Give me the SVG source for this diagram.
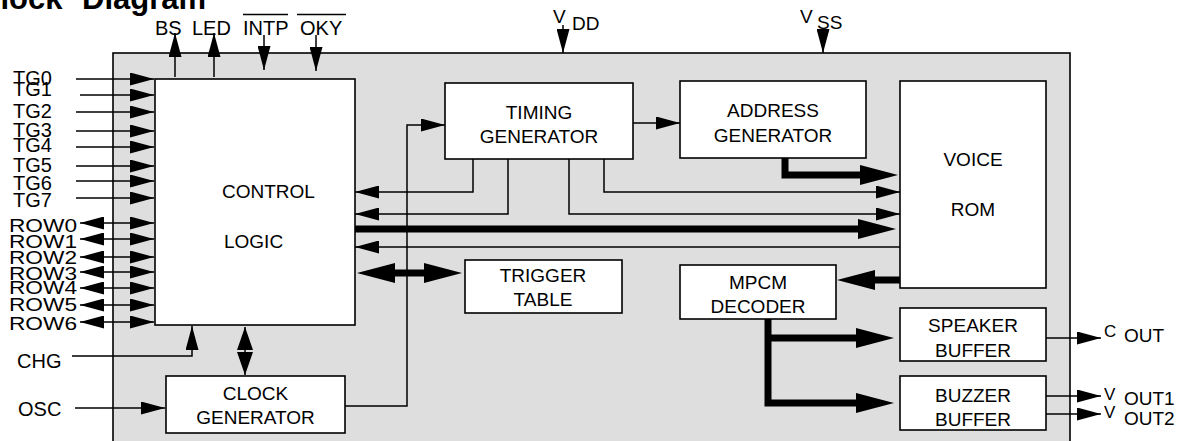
<svg xmlns="http://www.w3.org/2000/svg" width="1191" height="441" viewBox="0 0 1191 441">
<style>
.t{font-family:"Liberation Sans",Arial,sans-serif;font-size:19px;fill:#000}
.l{font-size:20px}
.c{text-anchor:middle}
.title{font-family:"Liberation Sans",Arial,sans-serif;font-size:31px;font-weight:bold;fill:#000}
.box{fill:#fff;stroke:#000;stroke-width:1.6}
.w{fill:none;stroke:#000;stroke-width:1.5}
.k{fill:none;stroke:#000;stroke-width:7;stroke-linejoin:miter}
.ov{stroke:#000;stroke-width:1.5}
</style>
<defs>
<marker id="ah" viewBox="0 0 24 13" refX="24" refY="6.5" markerWidth="24" markerHeight="13" markerUnits="userSpaceOnUse" orient="auto-start-reverse"><path d="M0,0L24,6.5L0,13z" fill="#000"/></marker>
<marker id="ahd" viewBox="0 0 23 16" refX="23" refY="8" markerWidth="23" markerHeight="16" markerUnits="userSpaceOnUse" orient="auto-start-reverse"><path d="M0,0L23,8L0,16z" fill="#000"/></marker>
<marker id="ahb" viewBox="0 0 38 20" refX="4" refY="10" markerWidth="38" markerHeight="20" markerUnits="userSpaceOnUse" orient="auto-start-reverse"><path d="M0,0L38,10L0,20z" fill="#000"/></marker>
</defs>
<rect width="1191" height="441" fill="#fff"/>
<text class="title" x="-22" y="9">Block <tspan x="82">Diagram</tspan></text>
<rect id="chip" x="113" y="53" width="957" height="400" fill="#dedede" stroke="#000" stroke-width="1.6"/>

<g id="control-logic"><rect class="box" x="155" y="79" width="200" height="246"/><text class="t" x="222" y="198">CONTROL</text><text class="t" x="224" y="248">LOGIC</text></g>
<g id="timing-generator"><rect class="box" x="445" y="83" width="188" height="76"/><text class="t c" x="539" y="119">TIMING</text><text class="t c" x="539" y="143">GENERATOR</text></g>
<g id="address-generator"><rect class="box" x="680" y="81" width="186" height="77"/><text class="t c" x="773" y="117">ADDRESS</text><text class="t c" x="773" y="142">GENERATOR</text></g>
<g id="voice-rom"><rect class="box" x="900" y="81" width="146" height="207"/><text class="t c" x="973" y="166">VOICE</text><text class="t c" x="973" y="216">ROM</text></g>
<g id="trigger-table"><rect class="box" x="465" y="260" width="157" height="53"/><text class="t c" x="543" y="282">TRIGGER</text><text class="t c" x="543" y="306">TABLE</text></g>
<g id="mpcm-decoder"><rect class="box" x="680" y="265" width="156" height="54"/><text class="t c" x="758" y="289">MPCM</text><text class="t c" x="758" y="313">DECODER</text></g>
<g id="speaker-buffer"><rect class="box" x="900" y="308" width="146" height="53"/><text class="t c" x="973" y="332">SPEAKER</text><text class="t c" x="973" y="357">BUFFER</text></g>
<g id="buzzer-buffer"><rect class="box" x="900" y="376" width="146" height="54"/><text class="t c" x="973" y="402">BUZZER</text><text class="t c" x="973" y="426">BUFFER</text></g>
<g id="clock-generator"><rect class="box" x="166" y="376" width="179" height="57"/><text class="t c" x="255.5" y="400">CLOCK</text><text class="t c" x="255.5" y="424">GENERATOR</text></g>

<g id="pins">
<text class="t l" x="155" y="35">BS</text>
<text class="t l" x="192" y="35">LED</text>
<text class="t l" x="243" y="35">INTP</text><line class="ov" x1="243" y1="14.5" x2="288" y2="14.5"/>
<text class="t l" x="300" y="35">OKY</text><line class="ov" x1="297" y1="14.5" x2="346" y2="14.5"/>
<text class="t" x="553" y="23">V</text><text class="t" x="572" y="30">DD</text>
<text class="t" x="800" y="23">V</text><text class="t" x="817" y="29">SS</text>
<text class="t l" x="13" y="85">TG0</text>
<text class="t l" x="13" y="96">TG1</text>
<text class="t l" x="13" y="118">TG2</text>
<text class="t l" x="13" y="137">TG3</text>
<text class="t l" x="13" y="152">TG4</text>
<text class="t l" x="13" y="172">TG5</text>
<text class="t l" x="13" y="190">TG6</text>
<text class="t l" x="13" y="207">TG7</text>
<text class="t" x="9" y="231.5" textLength="68" lengthAdjust="spacingAndGlyphs">ROW0</text>
<text class="t" x="9" y="248" textLength="68" lengthAdjust="spacingAndGlyphs">ROW1</text>
<text class="t" x="9" y="264" textLength="68" lengthAdjust="spacingAndGlyphs">ROW2</text>
<text class="t" x="9" y="280" textLength="68" lengthAdjust="spacingAndGlyphs">ROW3</text>
<text class="t" x="9" y="294" textLength="68" lengthAdjust="spacingAndGlyphs">ROW4</text>
<text class="t" x="9" y="311" textLength="68" lengthAdjust="spacingAndGlyphs">ROW5</text>
<text class="t" x="9" y="330" textLength="68" lengthAdjust="spacingAndGlyphs">ROW6</text>
<text class="t l" x="17" y="368">CHG</text>
<text class="t l" x="18" y="416">OSC</text>
<text class="t" x="1104" y="337" style="font-size:17px">C</text><text class="t" x="1124" y="342">OUT</text>
<text class="t" x="1104" y="400" style="font-size:17px">V</text><text class="t" x="1124" y="405">OUT1</text>
<text class="t" x="1104" y="418" style="font-size:17px">V</text><text class="t" x="1124" y="425">OUT2</text>
</g>

<g id="connectors">
<g class="w" marker-end="url(#ah)">
<path d="M76,79H154"/><path d="M80,95H154"/><path d="M76,112H154"/><path d="M76,131H154"/><path d="M76,147H154"/><path d="M76,166H154"/><path d="M76,181H154"/><path d="M76,198H154"/>
</g>
<g class="w" marker-start="url(#ah)" marker-end="url(#ah)">
<path d="M80,223H154"/><path d="M80,239H154"/><path d="M80,257H154"/><path d="M80,272H154"/><path d="M80,288H154"/><path d="M80,305H154"/><path d="M80,322H154"/>
</g>
<path class="w" marker-end="url(#ah)" d="M175,77V33"/>
<path class="w" marker-end="url(#ah)" d="M214,77V33"/>
<path class="w" marker-end="url(#ah)" d="M264,35V70"/>
<path class="w" marker-end="url(#ah)" d="M316,35V71"/>
<path class="w" marker-end="url(#ah)" d="M563,25V53"/>
<path class="w" marker-end="url(#ah)" d="M823,29V53"/>
<path class="w" marker-end="url(#ah)" d="M72,356H192V326"/>
<path class="w" marker-start="url(#ahd)" marker-end="url(#ahd)" d="M245,327V375"/>
<path class="w" marker-end="url(#ah)" d="M75,408H165"/>
<path class="w" marker-end="url(#ah)" d="M345,406H407V125H445"/>
<path class="w" marker-end="url(#ah)" d="M633,123H680"/>
<path class="w" marker-end="url(#ah)" d="M473,159V192H355"/>
<path class="w" marker-end="url(#ah)" d="M508,159V214H355"/>
<path class="w" marker-end="url(#ah)" d="M604,159V192H900"/>
<path class="w" marker-end="url(#ah)" d="M569,159V214H900"/>
<path class="w" marker-end="url(#ah)" d="M900,247H355"/>
<path class="w" marker-end="url(#ah)" d="M1046,338H1101"/>
<path class="w" marker-end="url(#ah)" d="M1046,396H1101"/>
<path class="w" marker-end="url(#ah)" d="M1046,414H1101"/>
<path class="k" marker-end="url(#ahb)" d="M785,158V175H864"/>
<path class="k" marker-end="url(#ahb)" d="M355,229H862"/>
<path class="k" marker-start="url(#ahb)" marker-end="url(#ahb)" d="M391,273H428"/>
<path class="k" marker-end="url(#ahb)" d="M900,280H871"/>
<path class="k" marker-end="url(#ahb)" d="M768,319V403H860"/>
<path class="k" marker-end="url(#ahb)" d="M768,338H860"/>
</g>
</svg>
